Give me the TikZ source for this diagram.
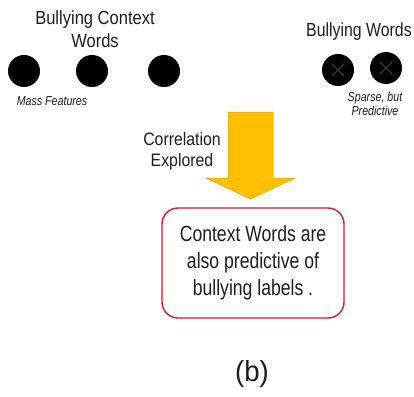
\documentclass[tikz,border=0pt]{standalone}
\usepackage{fontspec}
\usepackage{graphicx}
\setmainfont{Liberation Sans}
\definecolor{txt}{HTML}{1E1E1E}
\definecolor{arrowfill}{HTML}{FFC000}
\definecolor{arrowedge}{HTML}{D9A400}
\definecolor{boxred}{HTML}{C8202A}
\definecolor{xmark}{HTML}{383838}
\newcommand{\sqz}[2]{\scalebox{#1}[1]{\begin{tabular}{@{}c@{}}#2\end{tabular}}}
\begin{document}
\begin{tikzpicture}[x=1pt,y=-1pt,
  dot/.style={circle, fill=black, minimum size=32pt, inner sep=0pt},
  lbl/.style={text=txt, inner sep=0pt, align=center},
  xline/.style={draw=xmark, line width=1.3pt},
  result/.style={draw=boxred, line width=1.4pt, rounded corners=16pt, fill=white,
                 minimum width=182pt, minimum height=110pt, inner sep=0pt},
  blockarrow/.style={fill=arrowfill, draw=arrowedge, line width=0.5pt, line join=miter}]
\useasboundingbox (0,0) rectangle (414,396);
\fill[white] (0,0) rectangle (414,396);

% context word dots
\node[dot] (c1) at (24,71) {};
\node[dot] (c2) at (92,71) {};
\node[dot] (c3) at (164,71) {};
% bullying word dots
\node[dot] (b1) at (338,70) {};
\node[dot] (b2) at (386,68) {};
\foreach \n in {b1,b2}{
  \draw[xline] ([shift={(-6pt,-6pt)}]\n.center) -- ([shift={(6pt,6pt)}]\n.center);
  \draw[xline] ([shift={(-6pt,6pt)}]\n.center) -- ([shift={(6pt,-6pt)}]\n.center);
}

% labels
\node[lbl] (ctx) at (95,31.5) {\fontsize{19}{23}\selectfont\sqz{0.87}{Bullying Context\\Words}};
\node[lbl, anchor=west] (bw) at (306,32) {\fontsize{19}{23}\selectfont\sqz{0.835}{Bullying Words}};
\node[lbl] (mass) at (52,103) {\fontsize{13}{14}\selectfont\itshape\sqz{0.82}{Mass Features}};
\node[lbl] (sparse) at (375,106) {\fontsize{13}{14}\selectfont\itshape\sqz{0.82}{Sparse, but\\Predictive}};

% block arrow
\coordinate (atip) at (250.5,199);
\draw[blockarrow] (228,112) -- (273,112) -- (273,178) -- (295,178) -- (atip)
   -- (206,178) -- (228,178) -- cycle;
\node[lbl] (corr) at (182,152) {\fontsize{18}{21}\selectfont\sqz{0.88}{Correlation\\Explored}};

% result box
\node[result] (res) at (253,263) {};
\node[lbl] (restxt) at (res.center) {\fontsize{22}{27}\selectfont\sqz{0.8}{Context Words are\\also predictive of\\bullying labels .}};

% caption
\node[lbl] (cap) at (252,375) {\fontsize{29}{34}\selectfont\sqz{0.95}{(b)}};
\end{tikzpicture}
\end{document}
